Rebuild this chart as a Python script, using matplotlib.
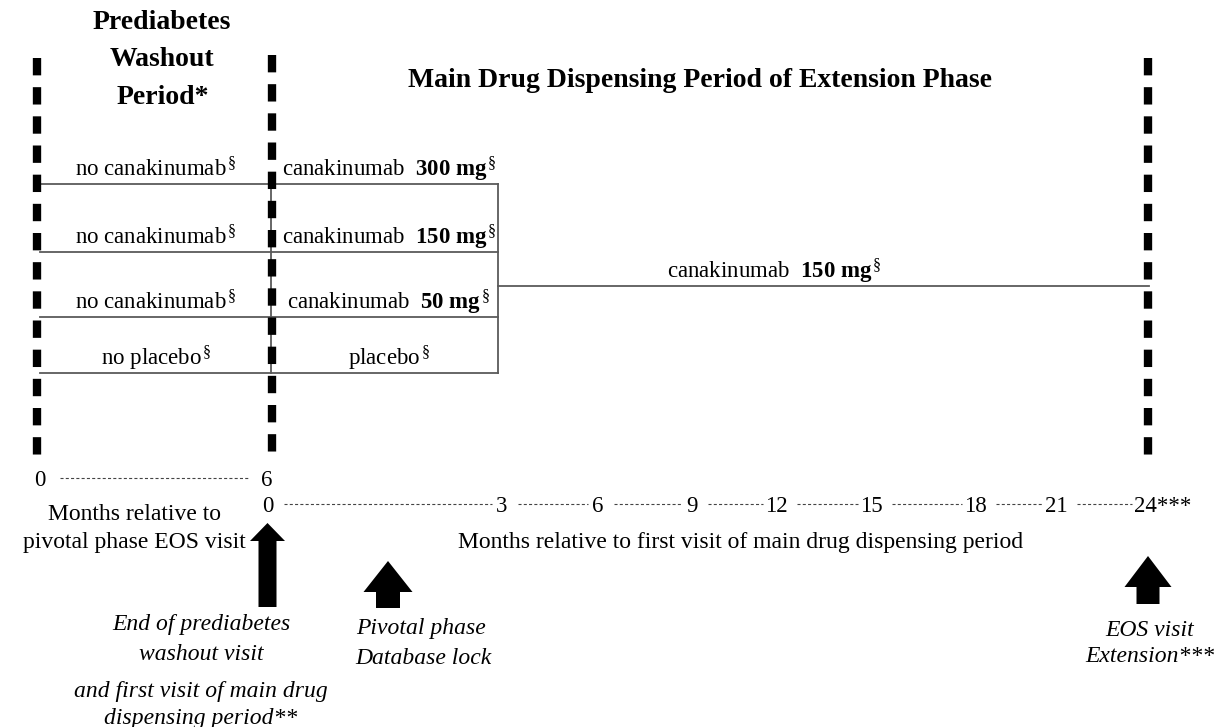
import matplotlib.pyplot as plt
from matplotlib.patches import FancyArrow

plt.rcParams['font.family'] = ['Liberation Serif', 'DejaVu Serif']
plt.rcParams['mathtext.fontset'] = 'custom'
plt.rcParams['mathtext.rm'] = 'Liberation Serif'
plt.rcParams['mathtext.bf'] = 'Liberation Serif:bold'
plt.rcParams['mathtext.it'] = 'Liberation Serif:italic'
plt.rcParams['lines.scale_dashes'] = False

# ---- data ----
washout_arms = ["no canakinumab", "no canakinumab", "no canakinumab", "no placebo"]
main_drug = ["canakinumab", "canakinumab", "canakinumab", "placebo"]
main_dose = ["300 mg", "150 mg", "50 mg", ""]
extension_drug = "canakinumab"
extension_dose = "150 mg"
pre_months = ["0", "6"]
main_months = ["0", "3", "6", "9", "12", "15", "18", "21", "24"]
end_mark = "***"

# ---- layout (pixels) ----
arm_y = [184, 252, 317, 373]
x_left, x_mid, x_box, x_end = 40, 271, 498, 1149
ext_y = 286
pre_x = [40, 267]
main_x = [268, 502, 598, 692, 776, 871, 975, 1056, 1145]

fig = plt.figure(figsize=(12.23, 7.27), dpi=100)
ax = fig.add_axes([0, 0, 1, 1])
ax.set_xlim(0, 1223)
ax.set_ylim(727, 0)
ax.axis('off')

grey = '#5a5a5a'
sec = r'$^{\,\S}$'

# arms
for i in range(len(arm_y)):
    y = arm_y[i]
    ax.plot([x_left, x_mid], [y, y], color=grey, lw=1.3)
    ax.plot([x_mid, x_box], [y, y], color=grey, lw=1.3)
    ax.text(156, y - 8, washout_arms[i] + sec, ha='center', va='baseline', fontsize=16.5)
    if main_dose[i]:
        lab = main_drug[i] + r'  $\mathbf{' + main_dose[i].replace(' ', r'\ ') + r'}^{\,\S}$'
    else:
        lab = main_drug[i] + sec
    ax.text(389, y - 8, lab, ha='center', va='baseline', fontsize=16.5)
ax.plot([x_mid, x_mid], [arm_y[0], arm_y[-1]], color=grey, lw=1.3)
ax.plot([x_box, x_box], [arm_y[0], arm_y[-1]], color=grey, lw=1.3)
ax.plot([x_box, x_end], [ext_y, ext_y], color=grey, lw=1.3)
ax.text(774, ext_y - 8,
        extension_drug + r'  $\mathbf{' + extension_dose.replace(' ', r'\ ') + r'}^{\,\S}$',
        ha='center', va='baseline', fontsize=16.5)

# thick dashed visit lines
for x, y0 in [(37, 58), (272, 55), (1148, 58)]:
    ax.plot([x, x], [y0, 455], color='black', lw=6, linestyle=(0, (12.5, 8.5)),
            solid_capstyle='butt', dash_capstyle='butt')

# titles
ax.text(162, 29, "Prediabetes", ha='center', va='baseline', fontsize=20, fontweight='bold')
ax.text(162, 66, "Washout", ha='center', va='baseline', fontsize=20, fontweight='bold')
ax.text(163, 104, "Period*", ha='center', va='baseline', fontsize=20, fontweight='bold')
ax.text(700, 87, "Main Drug Dispensing Period of Extension Phase", ha='center',
        va='baseline', fontsize=20, fontweight='bold')

# timelines
dot = dict(color='#444444', lw=0.8, linestyle=(0, (2.2, 1.6)))
for lab, x in zip(pre_months, pre_x):
    ax.text(x, 486, lab, ha='center', va='baseline', fontsize=16.5)
ax.plot([pre_x[0] + 20, pre_x[1] - 19], [478, 478], **dot)

for i, (lab, x) in enumerate(zip(main_months, main_x)):
    if i == len(main_months) - 1:
        ax.text(x - 11, 512, lab + end_mark, ha='left', va='baseline', fontsize=16.5)
    else:
        ax.text(x, 512, lab, ha='center', va='baseline', fontsize=16.5)
for i in range(len(main_x) - 1):
    p0 = 10 if len(main_months[i]) == 1 else 15
    p1 = 10 if len(main_months[i + 1]) == 1 else 13
    ax.plot([main_x[i] + p0 + 6, main_x[i + 1] - p1], [504, 504], **dot)

ax.text(134, 520, "Months relative to", ha='center', va='baseline', fontsize=17)
ax.text(134, 548, "pivotal phase EOS visit", ha='center', va='baseline', fontsize=17)
ax.text(741, 548, "Months relative to first visit of main drug dispensing period",
        ha='center', va='baseline', fontsize=17)

# arrows
for x, y_tail, y_tip, w, hw, hl in [(267.5, 607, 523, 18, 35, 18),
                                    (388, 608, 561, 24, 49, 31),
                                    (1148, 604, 556, 23, 47, 31)]:
    ax.add_patch(FancyArrow(x, y_tail, 0, y_tip - y_tail, width=w, head_width=hw,
                            head_length=hl, length_includes_head=True,
                            color='black', lw=0))

it = dict(ha='center', va='baseline', fontsize=17, style='italic')
ax.text(201, 630, "End of prediabetes", **it)
ax.text(201, 660, "washout visit", **it)
ax.text(201, 697, "and first visit of main drug", **it)
ax.text(201, 724, "dispensing period**", **it)
ax.text(421, 634, "Pivotal phase", **it)
ax.text(423, 664, "Database lock", **it)
ax.text(1150, 636, "EOS visit", **it)
ax.text(1150, 662, "Extension***", **it)

fig.savefig('out.png', dpi=100)
